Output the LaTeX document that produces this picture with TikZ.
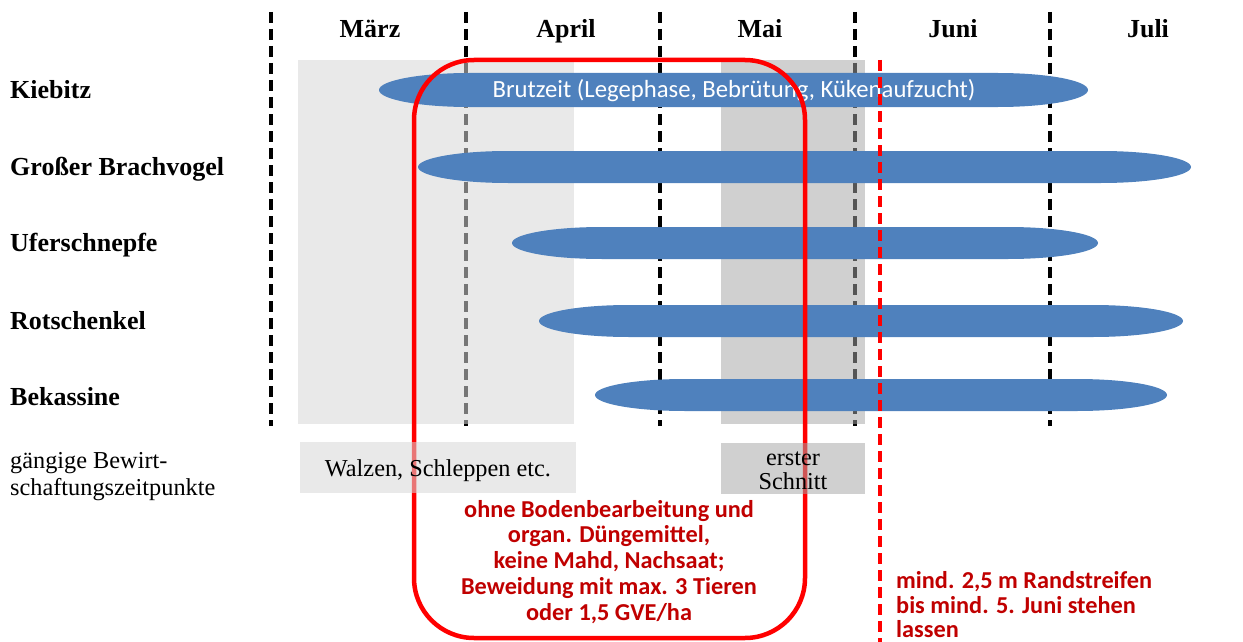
\documentclass[tikz,border=0pt]{standalone}
\usepackage{fontspec}
\setmainfont{Liberation Serif}
\newfontfamily\calibrifont{Carlito}
\definecolor{barblue}{HTML}{4F81BD}
\definecolor{lgray}{RGB}{215,215,215}
\definecolor{dgray}{RGB}{164,164,164}
\definecolor{framered}{HTML}{FF0000}
\definecolor{textred}{HTML}{C00000}
\newcommand\birdbar[4]{%
  \fill[barblue] (#1+90,#3-#4) -- (#2-90,#3-#4)
    .. controls (#2-40.3,#3-#4) and (#2,#3-0.5523*#4) .. (#2,#3)
    .. controls (#2,#3+0.5523*#4) and (#2-40.3,#3+#4) .. (#2-90,#3+#4)
    -- (#1+90,#3+#4)
    .. controls (#1+40.3,#3+#4) and (#1,#3+0.5523*#4) .. (#1,#3)
    .. controls (#1,#3-0.5523*#4) and (#1+40.3,#3-#4) .. cycle;}
\tikzset{
  monthline/.style={line width=3.5pt, dash pattern=on 11pt off 6pt, black},
  lightbox/.style={fill=lgray, fill opacity=0.55},
  darkbox/.style={fill=dgray, fill opacity=0.52},
  serifbold/.style={inner sep=0pt, font=\fontsize{26}{28}\selectfont\bfseries},
  rowlabel/.style={serifbold, anchor=base west},
  monthlabel/.style={serifbold, anchor=base},
  plainlabel/.style={inner sep=0pt, font=\fontsize{24.3}{26}\selectfont},
  bartext/.style={inner sep=0pt, anchor=base, text=white, font=\calibrifont\fontsize{24.7}{26}\selectfont},
  redtext/.style={inner sep=0pt, text=textred, font=\calibrifont\bfseries\fontsize{24.3}{26}\selectfont},
  redframe/.style={draw=framered, line width=4.5pt, rounded corners=60pt},
  reddash/.style={draw=framered, line width=4pt, dash pattern=on 11pt off 6pt},
}
\begin{document}
\begin{tikzpicture}[x=1pt,y=-1pt]
\useasboundingbox (0,0) rectangle (1243,642);
% month separators
\foreach \mx in {271,466,660,855,1050} \draw[monthline] (\mx,12) -- (\mx,426);
% mowing / rolling periods (upper)
\fill[lightbox] (298,60) rectangle (574,424);
\fill[darkbox] (721,60) rectangle (865,424);
% breeding bars
\birdbar{379}{1088}{90}{17}
\birdbar{418}{1191}{167}{16}
\birdbar{512}{1098}{243}{16}
\birdbar{539}{1183}{321}{16}
\birdbar{595}{1167}{395}{16}
\node[bartext] (brut) at (734,98) {Brutzeit (Legephase, Bebrütung, Kükenaufzucht)};
% red frame and red dashed line
\draw[redframe] (414,60) rectangle (805,638);
\draw[reddash] (880,60) -- (880,646);
% lower boxes
\fill[lightbox] (300,442) rectangle (576,493);
\fill[darkbox] (721,443) rectangle (865,494);
% month labels
\node[monthlabel] (maerz) at (370,37.5) {März};
\node[monthlabel] (april) at (566,37.5) {April};
\node[monthlabel] (mai) at (760,37.5) {Mai};
\node[monthlabel] (juni) at (953,37.5) {Juni};
\node[monthlabel] (juli) at (1148,37.5) {Juli};
% row labels
\node[rowlabel] (kiebitz) at (10,98.5) {Kiebitz};
\node[rowlabel] (brachvogel) at (10,175.5) {Großer Brachvogel};
\node[rowlabel] (uferschnepfe) at (10,251.5) {Uferschnepfe};
\node[rowlabel] (rotschenkel) at (10,329) {Rotschenkel};
\node[rowlabel] (bekassine) at (10,405) {Bekassine};
% lower labels
\node[plainlabel, anchor=base west] (g1) at (10,468) {gängige Bewirt-};
\node[plainlabel, anchor=base west] (g2) at (10,495) {schaftungszeitpunkte};
\node[plainlabel, anchor=base] (walzen) at (438,476) {Walzen, Schleppen etc.};
\node[plainlabel, anchor=base] (erster) at (793,465) {erster};
\node[plainlabel, anchor=base] (schnitt) at (793,489) {Schnitt};
% red texts
\node[redtext, anchor=base] (r1) at (609,517) {ohne Bodenbearbeitung und};
\node[redtext, anchor=base] (r2) at (609,542.8) {organ. Düngemittel,};
\node[redtext, anchor=base] (r3) at (609,568.6) {keine Mahd, Nachsaat;};
\node[redtext, anchor=base] (r4) at (609,594.4) {Beweidung mit max. 3 Tieren};
\node[redtext, anchor=base] (r5) at (609,620.2) {oder 1,5 GVE/ha};
\node[redtext, anchor=base west] (s1) at (896,588) {mind. 2,5 m Randstreifen};
\node[redtext, anchor=base west] (s2) at (896,613) {bis mind. 5. Juni stehen};
\node[redtext, anchor=base west] (s3) at (896,637) {lassen};
\end{tikzpicture}
\end{document}
